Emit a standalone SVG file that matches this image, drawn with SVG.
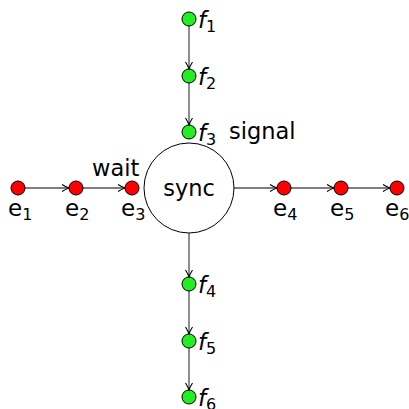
<svg xmlns="http://www.w3.org/2000/svg" width="409" height="409" viewBox="0 0 409 409">
<style>
.e{fill:#ff0000;stroke:#000;stroke-width:1}
.f{fill:#22ee22;stroke:#000;stroke-width:1}
.t{font-family:"DejaVu Sans",sans-serif;font-size:22.5px;fill:#000}
.lbl{font-family:"DejaVu Sans",sans-serif;font-size:23px;fill:#000}
.sub{font-size:16px}
.c line{stroke:#000;stroke-width:1.2;marker-end:url(#ah)}
.c .v{stroke:#444}
</style>
<defs>
<marker id="ah" markerWidth="10" markerHeight="10" refX="8" refY="5" orient="auto" markerUnits="userSpaceOnUse">
<path d="M1,1.5 Q5,4 8,5 Q5,6 1,8.5" fill="none" stroke="#000" stroke-width="1.1"/>
</marker>
</defs>
<g class="c" id="connectors">
<line x1="25" y1="188" x2="69" y2="188"/>
<line x1="83" y1="188" x2="125" y2="188"/>
<line x1="234" y1="188" x2="277" y2="188"/>
<line x1="291" y1="188" x2="334" y2="188"/>
<line x1="348" y1="188" x2="390" y2="188"/>
<line class="v" x1="189" y1="26" x2="189" y2="69"/>
<line class="v" x1="189" y1="83" x2="189" y2="125"/>
<line class="v" x1="189" y1="233" x2="189" y2="277"/>
<line class="v" x1="189" y1="291" x2="189" y2="334"/>
<line class="v" x1="189" y1="348" x2="189" y2="390"/>
</g>
<g id="sync"><circle cx="189" cy="188" r="45" fill="#fff" stroke="#000" stroke-width="1"/><text class="t" x="189" y="196" text-anchor="middle">sync</text></g>
<g id="e1"><circle class="e" cx="18" cy="188" r="7"/><text class="lbl" x="8" y="216">e<tspan class="sub" dy="4">1</tspan></text></g>
<g id="e2"><circle class="e" cx="76" cy="188" r="7"/><text class="lbl" x="65" y="216">e<tspan class="sub" dy="4">2</tspan></text></g>
<g id="e3"><circle class="e" cx="132" cy="188" r="7"/><text class="lbl" x="121" y="216">e<tspan class="sub" dy="4">3</tspan></text></g>
<g id="e4"><circle class="e" cx="284" cy="188" r="7"/><text class="lbl" x="273" y="216">e<tspan class="sub" dy="4">4</tspan></text></g>
<g id="e5"><circle class="e" cx="341" cy="188" r="7"/><text class="lbl" x="330" y="216">e<tspan class="sub" dy="4">5</tspan></text></g>
<g id="e6"><circle class="e" cx="397" cy="188" r="7"/><text class="lbl" x="385" y="216">e<tspan class="sub" dy="4">6</tspan></text></g>
<g id="f1"><circle class="f" cx="189" cy="19" r="7"/><text class="lbl" x="198" y="28" font-style="italic">f<tspan class="sub" dy="4" font-style="normal">1</tspan></text></g>
<g id="f2"><circle class="f" cx="189" cy="76" r="7"/><text class="lbl" x="198" y="85" font-style="italic">f<tspan class="sub" dy="4" font-style="normal">2</tspan></text></g>
<g id="f3"><circle class="f" cx="189" cy="132" r="7"/><text class="lbl" x="198" y="141" font-style="italic">f<tspan class="sub" dy="4" font-style="normal">3</tspan></text></g>
<g id="f4"><circle class="f" cx="189" cy="284" r="7"/><text class="lbl" x="198" y="293" font-style="italic">f<tspan class="sub" dy="4" font-style="normal">4</tspan></text></g>
<g id="f5"><circle class="f" cx="189" cy="341" r="7"/><text class="lbl" x="198" y="350" font-style="italic">f<tspan class="sub" dy="4" font-style="normal">5</tspan></text></g>
<g id="f6"><circle class="f" cx="189" cy="397" r="7"/><text class="lbl" x="198" y="406" font-style="italic">f<tspan class="sub" dy="4" font-style="normal">6</tspan></text></g>
<text class="t" x="92" y="176">wait</text>
<text class="t" x="229" y="139">signal</text>
</svg>
